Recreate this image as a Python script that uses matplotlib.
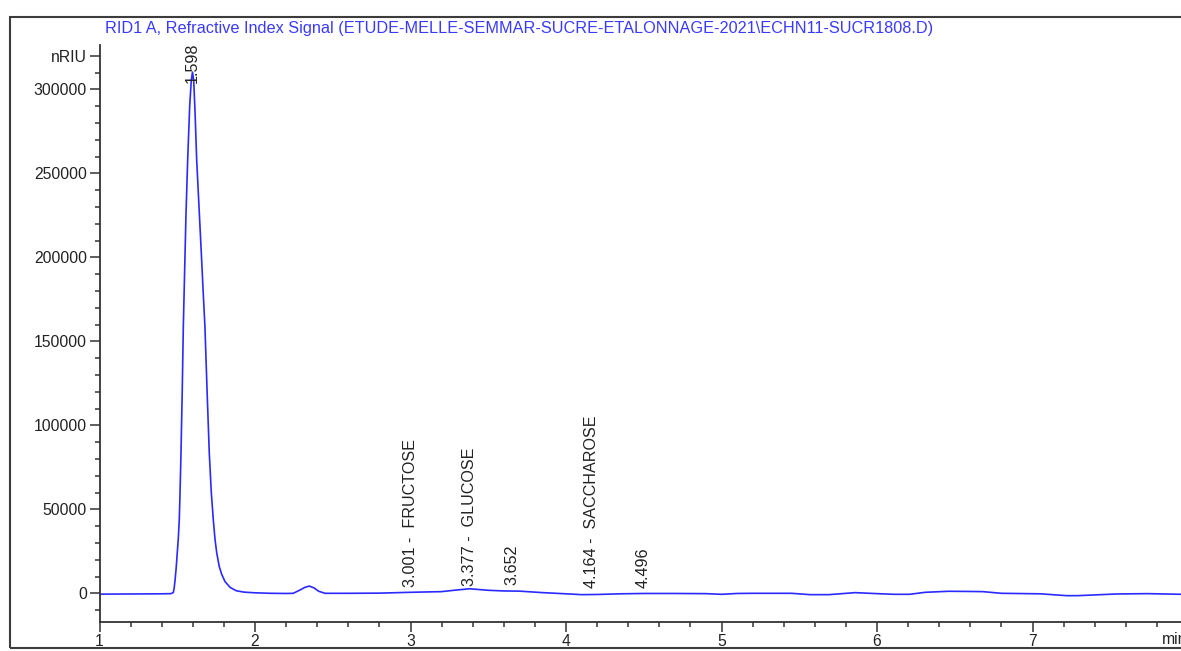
import matplotlib
matplotlib.use("Agg")
import matplotlib.pyplot as plt
from matplotlib.patches import Rectangle

plt.rcParams['font.family'] = ['Liberation Sans', 'DejaVu Sans']

# ---- data ----
time_min = [1.00, 1.20, 1.40, 1.46, 1.475, 1.480, 1.486, 1.493, 1.500, 1.507,
            1.513, 1.518, 1.524, 1.532, 1.539, 1.547, 1.556, 1.567, 1.580, 1.590,
            1.598, 1.606, 1.615, 1.625, 1.640, 1.655, 1.667, 1.678, 1.692, 1.706,
            1.719, 1.732, 1.743, 1.754, 1.770, 1.785, 1.807, 1.840, 1.880, 1.930,
            2.00, 2.10, 2.20, 2.246, 2.29, 2.32, 2.349, 2.38, 2.41, 2.45,
            2.60, 2.80, 3.00, 3.20, 3.30, 3.38, 3.50, 3.60, 3.70, 3.85,
            4.00, 4.10, 4.20, 4.35, 4.50, 4.70, 4.90, 5.00, 5.10, 5.20,
            5.45, 5.57, 5.69, 5.86, 6.00, 6.11, 6.21, 6.31, 6.46, 6.60,
            6.68, 6.80, 7.05, 7.22, 7.29, 7.54, 7.74, 7.96]
signal_nriu = [-500, -400, -300, -200, 500, 3000, 7900, 15000, 24000, 33000,
               43600, 60000, 83500, 120000, 158700, 190000, 225000, 257900, 290000, 305000,
               310300, 305000, 285000, 257900, 230000, 202000, 179000, 158700, 120000, 83500,
               60000, 43600, 32000, 24000, 16000, 11500, 7000, 3500, 1500, 700,
               300, 0, -100, 0, 2000, 3500, 4300, 3200, 1200, 0,
               0, 100, 600, 1000, 2000, 2700, 1800, 1400, 1300, 400,
               -300, -800, -700, -300, -100, -100, -200, -600, -100, 0,
               0, -800, -800, 400, -200, -600, -600, 600, 1200, 1100,
               1000, 0, -300, -1400, -1400, -400, -200, -600]

peak_times = [1.598, 3.001, 3.377, 3.652, 4.164, 4.496]
peak_labels = ["1.598", "3.001 -  FRUCTOSE", "3.377 -  GLUCOSE", "3.652",
               "4.164 -  SACCHAROSE", "4.496"]
label_base = [303500, 4000, 4500, 4800, 3000, 3000]

y_major = [0, 50000, 100000, 150000, 200000, 250000, 300000]
x_major = [1, 2, 3, 4, 5, 6, 7]
title = r"RID1 A, Refractive Index Signal (ETUDE-MELLE-SEMMAR-SUCRE-ETALONNAGE-2021\ECHN11-SUCR1808.D)"

W, H = 1181, 651
fig = plt.figure(figsize=(W / 100, H / 100), dpi=100)

# outer frame
fig.patches.append(Rectangle((10 / W, 3 / H), 1.2, (648 - 17) / H,
                             transform=fig.transFigure, fill=False,
                             edgecolor='#3c3c3c', linewidth=1.5, clip_on=False))

ax = fig.add_axes([99.5 / W, (H - 622) / H, (W - 99.5) / W, (622 - 45) / H])
line_color = '#2a2aff'
ax.plot(time_min, signal_nriu, color=line_color, linewidth=1.2, solid_joinstyle='round')

ax.set_xlim(1.0, 1 + (W - 99.5) / 155.5)
ax.set_ylim(-17080, 326400)

for s in ['top', 'right']:
    ax.spines[s].set_visible(False)
for s in ['left', 'bottom']:
    ax.spines[s].set_color('#333333')
    ax.spines[s].set_linewidth(1.3)

ax.set_yticks(y_major + [320000])
ax.set_yticklabels([str(v) for v in y_major] + ['nRIU'])
ax.set_yticks([v for v in range(-10000, 330000, 10000) if v % 50000 != 0 and v != 320000],
              minor=True)
ax.set_xticks(x_major)
ax.set_xticklabels([str(v) for v in x_major])
ax.set_xticks([1 + 0.2 * i for i in range(1, 35) if i % 5 != 0], minor=True)

ax.tick_params(axis='both', which='major', length=7, width=1.1, color='#333333',
               labelsize=11.3, labelcolor='#222222', pad=2)
ax.tick_params(axis='both', which='minor', length=3.5, width=1.1, color='#333333')

fig.text(1162 / W, 1 - 640 / H, "min", ha='left', va='center', fontsize=11.3,
         color='#222222')

for t, lab, yb in zip(peak_times, peak_labels, label_base):
    ax.text(t, yb, lab, rotation=90, ha='center', va='bottom', fontsize=11.6,
            color='#222222')

fig.text(105 / W, 1 - 28 / H, title, ha='left', va='center', fontsize=11.7,
         color='#3a3aff')

fig.savefig("out.png", dpi=100)
